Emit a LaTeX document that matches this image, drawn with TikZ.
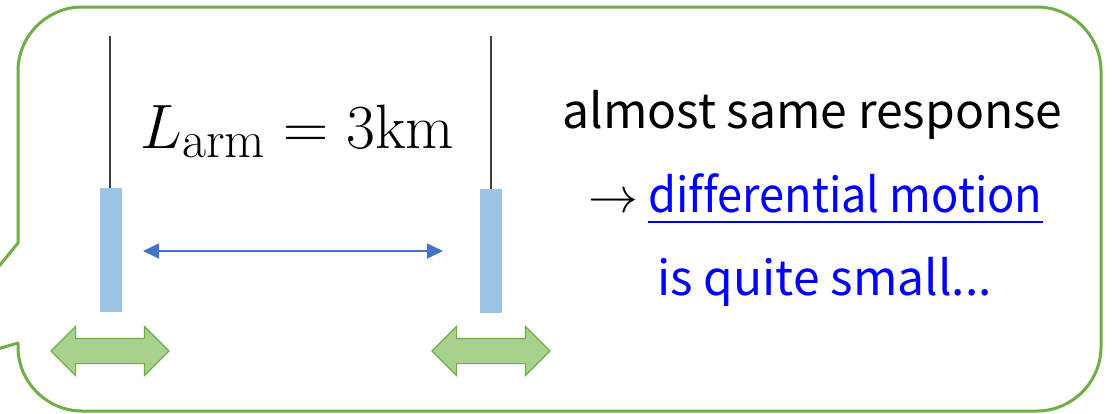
\documentclass[tikz,border=0pt]{standalone}
\usepackage{fontspec}
\newfontfamily\jpfont[Ligatures=NoCommon]{Noto Sans CJK JP}
\usetikzlibrary{arrows.meta,shapes.arrows}
\definecolor{boxgreen}{HTML}{70AD47}
\definecolor{arrowgreen}{HTML}{A9D18E}
\definecolor{mirrorblue}{HTML}{9DC3E6}
\definecolor{armblue}{HTML}{4472C4}
\definecolor{textblue}{HTML}{0000FF}
\tikzset{
	mirror/.style={fill=mirrorblue},
	wire/.style={draw=black!75, line width=0.8pt},
	shake/.style={shape=double arrow, draw=boxgreen, fill=arrowgreen, line width=0.6pt,
		minimum height=59pt, minimum width=24pt, double arrow head extend=6pt,
		inner xsep=0pt, inner ysep=6pt, text height=0pt, text depth=0pt},
	say/.style={font=\jpfont\fontsize{24}{28}\selectfont, inner sep=0pt, anchor=base west}
}
\begin{document}
\begin{tikzpicture}[x=0.5pt, y=-0.5pt]
		\clip (0, 0) rectangle (1112, 413);
		\useasboundingbox (0, 0) rectangle (1112, 413);
		\fill[white] (0, 0) rectangle (1112, 413);
		
		% callout
		\draw[boxgreen, line width=1.5pt, line join=round]
			(18, 343) -- (18, 347) .. controls (18, 382) and (47, 411) .. (82, 411)
			-- (1037, 411) .. controls (1072, 411) and (1101, 382) .. (1101, 347)
			-- (1101, 71) .. controls (1101, 36) and (1072, 7) .. (1037, 7)
			-- (82, 7) .. controls (47, 7) and (18, 36) .. (18, 71)
			-- (18, 243) -- (-89, 374) -- cycle;
		
		% mirrors
		\fill[mirror] (100, 188) rectangle (122, 312);
		\fill[mirror] (480, 189) rectangle (502, 313);
		\coordinate (topL) at (110, 36);
		\coordinate (botL) at (110, 188);
		\coordinate (topR) at (491, 36);
		\coordinate (botR) at (491, 189);
		\draw[wire] (topL) -- (botL);
		\draw[wire] (topR) -- (botR);
		
		% arm length
		\node[anchor=base west, inner sep=0pt, scale=1.26, font=\fontsize{24.88}{30}\selectfont] (larm) at (140, 148) {$L_{\mathrm{arm}} = 3\mathrm{km}$};
		\coordinate (armL) at (143, 251);
		\coordinate (armR) at (443, 251);
		\draw[armblue, line width=0.7pt, {Triangle[length=8pt, width=7.5pt]}-{Triangle[length=8pt, width=7.5pt]}] (armL) -- (armR);
		
		% seismic motion
		\node[shake] (shakeL) at (110, 351) {};
		\node[shake] (shakeR) at (491, 351) {};
		
		% comment
		\node[say] (same) at (562, 128) {almost same response};
		\node[say] (to) at (588, 212) {$\rightarrow$};
		\node[say, text=textblue, xscale=0.94] (diff) at (648, 212) {differential motion};
		\draw[textblue, line width=1pt] ([yshift=-5pt]diff.base west) -- ([yshift=-5pt]diff.base east);
		\node[say, text=textblue] (small) at (657, 295) {is quite small...};
\end{tikzpicture}
\end{document}
